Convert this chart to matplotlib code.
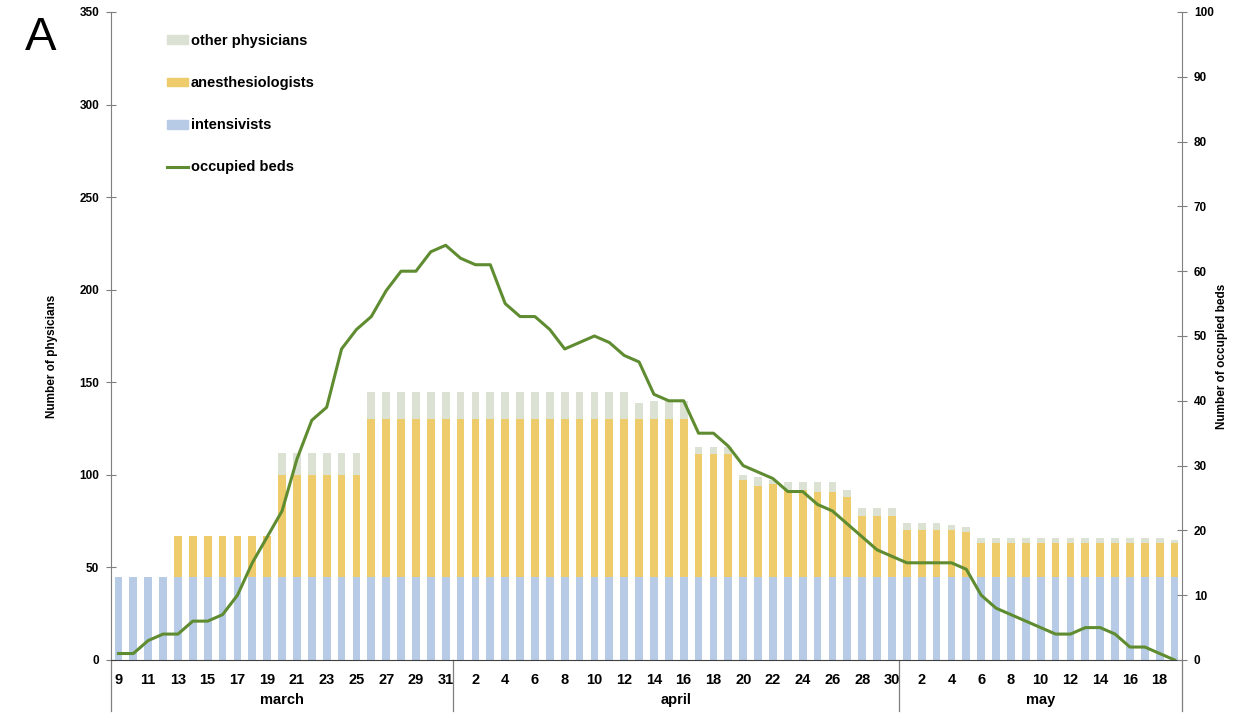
import matplotlib
matplotlib.use("Agg")
import matplotlib.pyplot as plt
from matplotlib.patches import Patch
from matplotlib.lines import Line2D
import matplotlib.transforms as mtransforms

# Daily staffing (physicians) and ICU occupancy, 9 March - 19 May
months = ["march", "april", "may"]
month_days = [list(range(9, 32)), list(range(1, 31)), list(range(1, 20))]

intensivists = [45] * 72

anesthesiologists = (
    [0, 0, 0, 0]                      # Mar 9-12
    + [22] * 7                        # Mar 13-19
    + [55] * 6                        # Mar 20-25
    + [85] * 6                        # Mar 26-31
    + [85] * 16                       # Apr 1-16
    + [66, 66, 66]                    # Apr 17-19
    + [52, 49, 50, 47, 47, 46, 46, 43, 33, 33, 33]  # Apr 20-30
    + [25, 25, 25, 25, 24]            # May 1-5
    + [18] * 14                       # May 6-19
)

other_physicians = (
    [0] * 11                          # Mar 9-19
    + [12] * 6                        # Mar 20-25
    + [15] * 6                        # Mar 26-31
    + [15] * 12                       # Apr 1-12
    + [9, 10, 10, 10]                 # Apr 13-16
    + [4, 4, 4]                       # Apr 17-19
    + [3, 5, 2, 4, 4, 5, 5, 4, 4, 4, 4]  # Apr 20-30
    + [4, 4, 4, 3, 3]                 # May 1-5
    + [3] * 13 + [2]                  # May 6-19
)

occupied_beds = [
    1, 1, 3, 4, 4, 6, 6, 7, 10, 15, 19, 23, 31, 37, 39, 48, 51, 53, 57, 60, 60, 63, 64,
    62, 61, 61, 55, 53, 53, 51, 48, 49, 50, 49, 47, 46, 41, 40, 40, 35, 35, 33, 30, 29,
    28, 26, 26, 24, 23, 21, 19, 17, 16,
    15, 15, 15, 15, 14, 10, 8, 7, 6, 5, 4, 4, 5, 5, 4, 2, 2, 1, 0,
]

c_int = "#b7cbe6"
c_ane = "#eecb6b"
c_oth = "#dce2d3"
c_line = "#5f8c30"
c_axis = "#7f7f7f"

plt.rcParams["font.family"] = ["Liberation Sans", "DejaVu Sans"]

fig = plt.figure(figsize=(12.4, 7.13), dpi=100)
ax = fig.add_axes([111 / 1240, 1 - 660 / 713, (1182 - 111) / 1240, (660 - 12) / 713])
ax2 = ax.twinx()

x = list(range(len(intensivists)))
width = 0.52
ax.bar(x, intensivists, width, color=c_int, zorder=2)
ax.bar(x, anesthesiologists, width, bottom=intensivists, color=c_ane, zorder=2)
base2 = [a + b for a, b in zip(intensivists, anesthesiologists)]
ax.bar(x, other_physicians, width, bottom=base2, color=c_oth, zorder=2)

ax2.plot(x, occupied_beds, color=c_line, lw=2.2, zorder=3)

ax.set_xlim(-0.5, len(x) - 0.5)
ax.set_ylim(0, 350)
ax2.set_ylim(0, 100)
ax.set_yticks(range(0, 351, 50))
ax2.set_yticks(range(0, 101, 10))

# x tick labels: odd days in March, even days in April and May
tick_pos, tick_lab = [], []
pos = 0
for mi, days in enumerate(month_days):
    for d in days:
        if (mi == 0 and d % 2 == 1) or (mi > 0 and d % 2 == 0):
            tick_pos.append(pos)
            tick_lab.append(str(d))
        pos += 1
ax.set_xticks(tick_pos)
ax.set_xticklabels(tick_lab, fontsize=10.5, fontweight="bold")
ax.tick_params(axis="x", length=0, pad=9)

for a in (ax, ax2):
    a.spines["top"].set_visible(False)
    a.spines["left"].set_color(c_axis)
    a.spines["right"].set_color(c_axis)
    a.spines["bottom"].set_color("#404040")
ax.spines["right"].set_visible(False)
ax2.spines["left"].set_visible(False)
ax2.spines["bottom"].set_visible(False)

ax.tick_params(axis="y", direction="inout", length=7, width=0.8, color=c_axis,
               labelsize=8.5, pad=5)
ax2.tick_params(axis="y", direction="inout", length=7, width=0.8, color=c_axis,
                labelsize=8.5, pad=5)
for lab in ax.get_yticklabels() + ax2.get_yticklabels():
    lab.set_fontweight("bold")

# Axis titles
fig.text(52 / 1240, 1 - 356 / 713, "Number of physicians", rotation=90,
         fontsize=8.5, fontweight="bold", ha="center", va="center")
fig.text(1222 / 1240, 1 - 356 / 713, "Number of occupied beds", rotation=90,
         fontsize=8.5, fontweight="bold", ha="center", va="center")

# Month separators and labels below the axis
trans = mtransforms.blended_transform_factory(ax.transData, ax.transAxes)
bounds = [-0.5]
for days in month_days:
    bounds.append(bounds[-1] + len(days))
for b in bounds:
    ax.plot([b, b], [0, -0.078], transform=trans, color=c_axis, lw=0.9,
            clip_on=False, zorder=1)
for mi, m in enumerate(months):
    ax.text((bounds[mi] + bounds[mi + 1]) / 2, -0.062, m, transform=trans,
            ha="center", va="center", fontsize=10.5, fontweight="bold")

handles = [
    Patch(color=c_oth, label="other physicians"),
    Patch(color=c_ane, label="anesthesiologists"),
    Patch(color=c_int, label="intensivists"),
    Line2D([0], [0], color=c_line, lw=2.2, label="occupied beds"),
]
leg = ax2.legend(handles=handles, loc="upper left", bbox_to_anchor=(0.047, 0.975),
                 frameon=False, prop={"weight": "bold", "size": 10.5},
                 labelspacing=1.93, handlelength=1.45, handleheight=0.55,
                 handletextpad=0.15, borderaxespad=0)

fig.text(25 / 1240, 1 - 38 / 713, "A", fontsize=34, ha="left", va="center")

fig.savefig("out.png", dpi=100)
